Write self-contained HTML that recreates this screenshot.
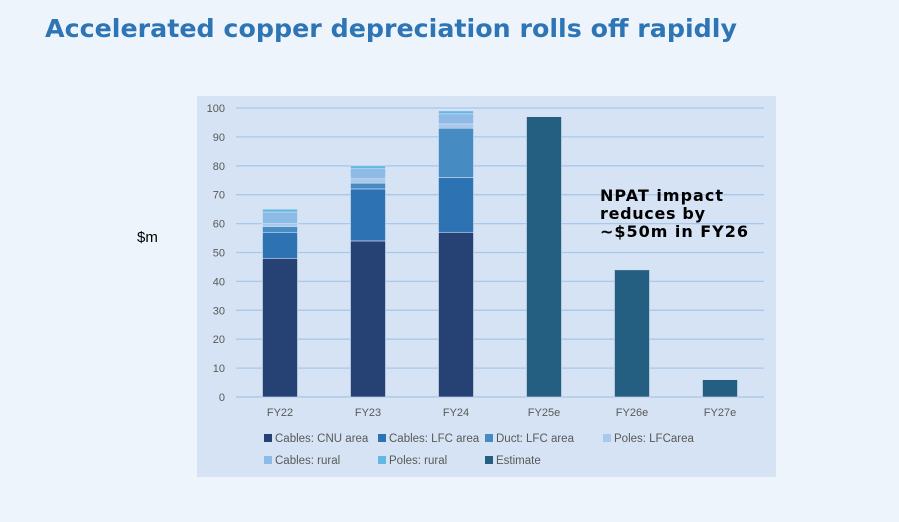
<!DOCTYPE html>
<html><head><meta charset="utf-8"><style>
html,body{margin:0;padding:0;background:#eef4fc;width:899px;height:522px;overflow:hidden}
svg{display:block}
</style></head><body>
<svg width="899" height="522" xmlns="http://www.w3.org/2000/svg" font-family="Liberation Sans, sans-serif">
<text x="45" y="37" font-family="DejaVu Sans, sans-serif" font-weight="bold" font-size="25" fill="#2e75b6" textLength="692" lengthAdjust="spacingAndGlyphs">Accelerated copper depreciation rolls off rapidly</text>
<text x="137" y="242" font-size="15" fill="#000">$m</text>
<rect x="197" y="96" width="579" height="381" fill="#d5e3f4"/>
<g id="grid"></g>
<g id="bars"></g>
<g id="labels" font-size="11" fill="#595959"></g>
<text font-family="DejaVu Sans, sans-serif" font-weight="bold" font-size="16" fill="#000"><tspan x="600" y="201" textLength="123">NPAT impact</tspan><tspan x="600" y="219" textLength="105">reduces by</tspan><tspan x="600" y="237" textLength="148">~$50m in FY26</tspan></text>
<g id="legend" font-size="11.5" fill="#595959"></g>
</svg>
<script>
const categories=["FY22","FY23","FY24","FY25e","FY26e","FY27e"];
const seriesNames=["Cables: CNU area","Cables: LFC area","Duct: LFC area","Poles: LFCarea","Cables: rural","Poles: rural","Estimate"];
const colors=["#264173","#2d72b3","#468bc2","#aac8ea","#8dbbe6","#63b7e4","#245e80"];
const cnu=[48,54,57,0,0,0];
const lfc=[9,18,19,0,0,0];
const duct=[2,2,17,0,0,0];
const polesLfc=[1,1.5,1.5,0,0,0];
const cablesRural=[4,3.5,3.5,0,0,0];
const polesRural=[1,1,1,0,0,0];
const estimate=[0,0,0,97,44,6];
const yTicks=[0,10,20,30,40,50,60,70,80,90,100];
const series=[cnu,lfc,duct,polesLfc,cablesRural,polesRural,estimate];
const NS="http://www.w3.org/2000/svg";
const y0=397,yTop=108,x0=236,x1=764;
const yS=v=>y0-(v/100)*(y0-yTop);
const band=(x1-x0)/categories.length;
const xC=i=>x0+band*(i+0.5);
function mk(t,a,p){const e=document.createElementNS(NS,t);for(const k in a)e.setAttribute(k,a[k]);p.appendChild(e);return e;}
const grid=document.getElementById('grid'),bars=document.getElementById('bars'),lab=document.getElementById('labels'),leg=document.getElementById('legend');
yTicks.forEach(v=>{
 const l=mk('line',{x1:x0,x2:x1,y1:yS(v),y2:yS(v),stroke:v===0?'#a9c4e4':'#a9c8ec','stroke-width':1.3},grid);
 
 
 const t=mk('text',{x:225,y:yS(v)+4,'text-anchor':'end'},lab);t.textContent=v;
 
 
});
categories.forEach((c,i)=>{
 let acc=0;
 series.forEach((s,j)=>{
  if(!s[i])return;
  const r=mk('rect',{x:xC(i)-17.5,width:35,y:yS(acc+s[i]),height:yS(acc)-yS(acc+s[i]),fill:colors[j],stroke:'#d5e3f4','stroke-width':0.6},bars);
  
  
  acc+=s[i];
 });
 const t=mk('text',{x:xC(i),y:416,'text-anchor':'middle'},lab);t.textContent=c;
 
 
});
const lp=[[264,442],[378,442],[485,442],[603,442],[264,464],[378,464],[485,464]];
seriesNames.forEach((n,j)=>{
 const g=mk('g',{},leg);
 
 
 mk('rect',{x:lp[j][0],y:lp[j][1]-8,width:8,height:8,fill:colors[j]},g);
 const t=mk('text',{x:lp[j][0]+11,y:lp[j][1]},g);t.textContent=n;
});
</script>
</body></html>
